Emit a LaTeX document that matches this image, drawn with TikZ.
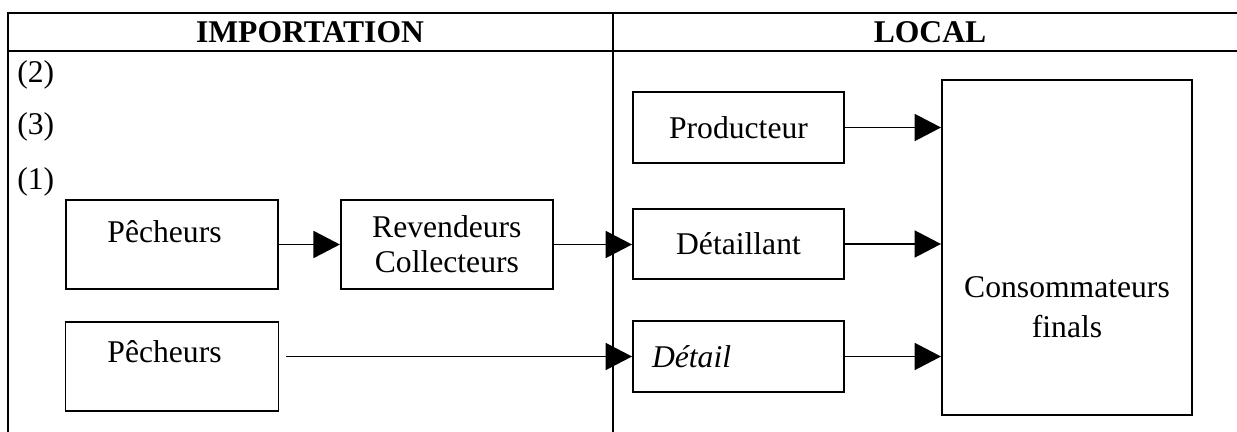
\documentclass[tikz,border=0pt]{standalone}
\usepackage{fontspec}
\setmainfont{Liberation Serif}
\usepackage{tikz}
\usetikzlibrary{arrows.meta}
\usetikzlibrary{positioning}

\tikzset{
  cadre/.style={line width=1.4pt},
  boite/.style={draw, line width=1.1pt, inner sep=0pt, align=center},
  fleche/.style={line width=1.1pt, -{Triangle[length=0.53cm,width=0.54cm]}}
}

\begin{document}
\begin{tikzpicture}[x=0.02cm,y=-0.02cm,font=\fontsize{18}{20}\selectfont]
    \useasboundingbox (0,0) rectangle (1237,432);
    \coordinate (T1) at (8,13);
    \coordinate (T2) at (1237,13);
    \coordinate (H1) at (8,51);
    \coordinate (H2) at (1237,51);
    \coordinate (M1) at (613,13);
    \coordinate (M2) at (613,432);
    \coordinate (B1) at (8,432);

    % tableau
    \draw[cadre] (T2) -- (T1) -- (B1);
    \draw[cadre] (H1) -- (H2);
    \draw[cadre] (M1) -- (M2);
    \node[] (import) at (310,32) {\bfseries IMPORTATION};
    \node[] (local) at (930,32) {\bfseries LOCAL};
    \node[anchor=west, inner sep=0pt] (n2) at (17,75) {(2)};
    \node[anchor=west, inner sep=0pt] (n3) at (17,127) {(3)};
    \node[anchor=west, inner sep=0pt] (n1) at (17,182) {(1)};

    % importation
    \node[boite, minimum width=4.24cm, minimum height=1.78cm, text height=0.42cm, text depth=0.52cm] (pech1) at (172,244.5) {Pêcheurs\hspace{0.3cm}};
    \node[boite, minimum width=4.24cm, minimum height=1.78cm, right=1.22cm of pech1] (rev) {Revendeurs\\Collecteurs};
    \node[boite, minimum width=4.26cm, minimum height=1.78cm, text height=0.42cm, text depth=0.56cm, below=0.62cm of pech1] (pech2) {Pêcheurs\hspace{0.3cm}};

    % local
    \node[boite, minimum width=4.22cm, minimum height=1.42cm] (prod) at (738.5,127.5) {Producteur};
    \node[boite, minimum width=4.22cm, minimum height=1.40cm] (detl) at (738.5,244) {Détaillant};
    \node[boite, inner xsep=0.38cm, text width=3.46cm, align=left, minimum height=1.42cm] (detail) at (738.5,356.5) {\itshape Détail};
    \node[boite, minimum width=5cm, minimum height=6.7cm] (cons) at (1067,247.5) {};
    \node[align=center] (consTxt) at ([yshift=-1.19cm]cons.center) {Consommateurs\\[3pt]finals};

    \coordinate (depart) at ([xshift=0.14cm]pech2.east);
    \draw[fleche] (pech1) -- (rev);
    \draw[fleche] (rev.east) -- (rev.east -| detl.west);
    \draw[fleche] (depart |- detail.west) -- (detail.west);
    \draw[fleche] (prod.east) -- (prod.east -| cons.west);
    \draw[fleche] (detl.east) -- (detl.east -| cons.west);
    \draw[fleche] (detail.east) -- (detail.east -| cons.west);
\end{tikzpicture}
\end{document}
